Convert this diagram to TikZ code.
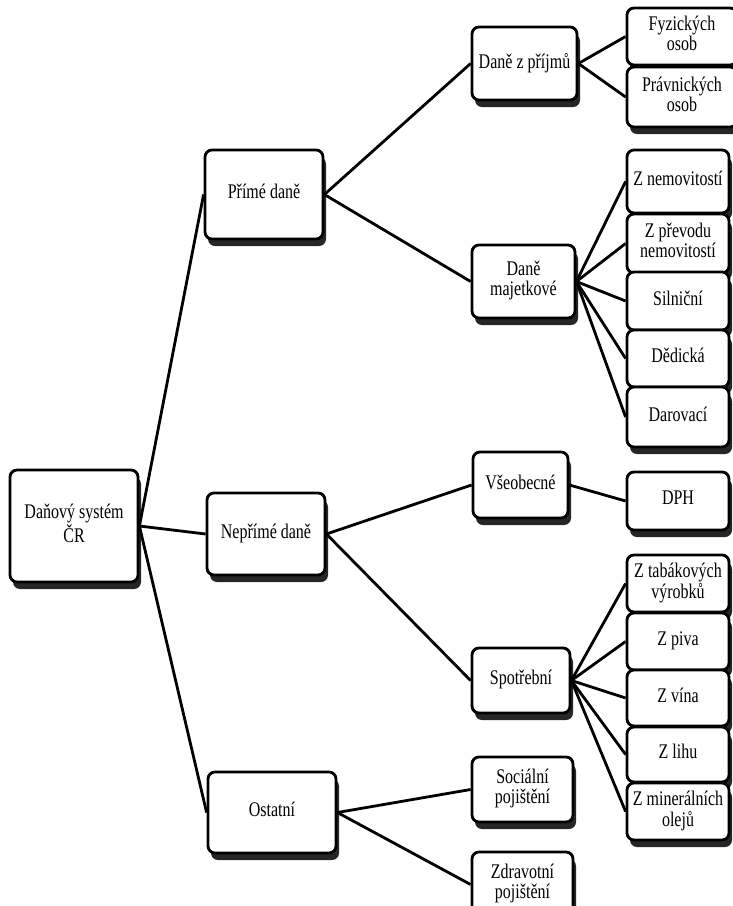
\documentclass[tikz,border=0pt]{standalone}
\usepackage{fontspec}
\setmainfont{Liberation Serif}
\usepackage{graphicx}
\usetikzlibrary{shadows}
\newcommand\tx[1]{\scalebox{1}[1.3]{\renewcommand\arraystretch{0.8}\begin{tabular}{@{}c@{}}#1\end{tabular}}}
\tikzset{
  box/.style={draw=black, line width=2.8pt, rounded corners=7pt, fill=white, inner sep=0pt,
    font=\fontsize{16}{19}\selectfont,
    drop shadow={shadow xshift=3pt, shadow yshift=-7pt, opacity=0.85, fill=black}},
  leaf/.style={box, minimum width=102pt},
  conn/.style={draw=black, line width=2.8pt}
}
\begin{document}
\begin{tikzpicture}[x=1pt,y=-1pt]
\useasboundingbox (0,0) rectangle (732,906);
% level 0
\node[box, minimum width=128pt, minimum height=112pt] (root) at (74,526) {\tx{Daňový systém\\ČR}};
% level 1
\node[box, minimum width=118pt, minimum height=89pt] (P1) at (264,194.5) {\tx{Přímé daně}};
\node[box, minimum width=118pt, minimum height=82pt] (N1) at (266,534) {\tx{Nepřímé daně}};
\node[box, minimum width=128pt, minimum height=81pt] (O1) at (272,812.5) {\tx{Ostatní}};
% level 2
\node[box, minimum width=105pt, minimum height=73pt] (DzP) at (524.5,63.5) {\tx{Daně z příjmů}};
\node[box, minimum width=103pt, minimum height=73pt] (DM) at (523.5,281.5) {\tx{Daně\\majetkové}};
\node[box, minimum width=95pt, minimum height=66pt] (Vseo) at (520.5,485) {\tx{Všeobecné}};
\node[box, minimum width=98pt, minimum height=65pt] (Spot) at (521,680.5) {\tx{Spotřební}};
\node[box, minimum width=101pt, minimum height=65pt] (Soc) at (522.5,789.5) {\tx{Sociální\\pojištění}};
\node[box, minimum width=101pt, minimum height=65pt] (Zdr) at (522.5,884.5) {\tx{Zdravotní\\pojištění}};
% level 3
\node[box, minimum width=110pt, minimum height=57pt] (Fyz) at (682,36.5) {\tx{Fyzických\\osob}};
\node[box, minimum width=110pt, minimum height=60pt] (Prav) at (682,97) {\tx{Právnických\\osob}};
\node[leaf, minimum height=63pt] (Znem) at (678,181.5) {\tx{Z nemovitostí}};
\node[leaf, minimum height=59pt] (Zprev) at (678,243.5) {\tx{Z převodu\\nemovitostí}};
\node[leaf, minimum height=58pt] (Siln) at (678,301) {\tx{Silniční}};
\node[leaf, minimum height=57pt] (Ded) at (678,358.5) {\tx{Dědická}};
\node[leaf, minimum height=60pt] (Dar) at (678,417) {\tx{Darovací}};
\node[leaf, minimum height=58pt] (DPH) at (678,501) {\tx{DPH}};
\node[leaf, minimum height=57pt] (Ztab) at (678,583.5) {\tx{Z tabákových\\výrobků}};
\node[leaf, minimum height=57pt] (Zpiv) at (678,641.5) {\tx{Z piva}};
\node[leaf, minimum height=56pt] (Zvin) at (678,698) {\tx{Z vína}};
\node[leaf, minimum height=55pt] (Zlih) at (678,754.5) {\tx{Z lihu}};
\node[leaf, minimum height=57pt] (Zmin) at (678,811.5) {\tx{Z minerálních\\olejů}};
% connectors
\draw[conn] (root.east) -- (P1.west);
\draw[conn] (root.east) -- (N1.west);
\draw[conn] (root.east) -- (O1.west);
\draw[conn] (P1.east) -- (DzP.west);
\draw[conn] (P1.east) -- (DM.west);
\draw[conn] (N1.east) -- (Vseo.west);
\draw[conn] (N1.east) -- (Spot.west);
\draw[conn] (O1.east) -- (Soc.west);
\draw[conn] (O1.east) -- (Zdr.west);
\draw[conn] (DzP.east) -- (Fyz.west);
\draw[conn] (DzP.east) -- (Prav.west);
\draw[conn] (DM.east) -- (Znem.west);
\draw[conn] (DM.east) -- (Zprev.west);
\draw[conn] (DM.east) -- (Siln.west);
\draw[conn] (DM.east) -- (Ded.west);
\draw[conn] (DM.east) -- (Dar.west);
\draw[conn] (Vseo.east) -- (DPH.west);
\draw[conn] (Spot.east) -- (Ztab.west);
\draw[conn] (Spot.east) -- (Zpiv.west);
\draw[conn] (Spot.east) -- (Zvin.west);
\draw[conn] (Spot.east) -- (Zlih.west);
\draw[conn] (Spot.east) -- (Zmin.west);
\end{tikzpicture}
\end{document}
